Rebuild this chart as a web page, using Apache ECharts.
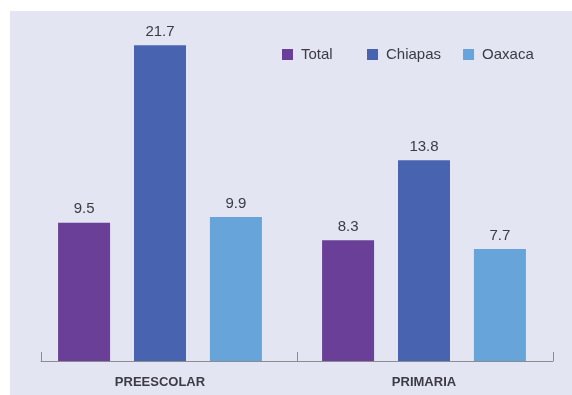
<!DOCTYPE html>
<html>
<head>
<meta charset="utf-8">
<script src="https://cdn.jsdelivr.net/npm/echarts@6/dist/echarts.min.js"></script>
<style>
html,body{margin:0;padding:0;background:#fff;}
#c{width:572px;height:395px;}
</style>
</head>
<body>
<div id="c"></div>
<script>
var categories = ['PREESCOLAR', 'PRIMARIA'];
var seriesNames = ['Total', 'Chiapas', 'Oaxaca'];
var totalValues = [9.5, 8.3];
var chiapasValues = [21.7, 13.8];
var oaxacaValues = [9.9, 7.7];
var colors = ['#6a3f98', '#4863b0', '#67a4da'];

var chart = echarts.init(document.getElementById('c'), null, {renderer: 'canvas'});
var textColor = '#3b3b45';
var font = 'Liberation Sans, Arial, sans-serif';
var labelStyle = {
  show: true, position: 'top', distance: 6,
  fontFamily: font, fontSize: 15, color: textColor,
  formatter: function (p) { return p.value.toFixed(1); }
};
function mk(i, vals) {
  return {
    name: seriesNames[i], type: 'bar', xAxisIndex: 0, yAxisIndex: 0,
    data: vals, barWidth: 52, barGap: '46%',
    itemStyle: {color: colors[i]},
    label: labelStyle
  };
}
var legendBase = {
  top: 47, padding: 0, icon: 'rect', itemWidth: 11, itemHeight: 11, itemGap: 22,
  textStyle: {fontFamily: font, fontSize: 15, color: textColor, padding: [0, 0, 0, 3]}
};
chart.setOption({
  backgroundColor: '#ffffff',
  animation: false,
  graphic: [{
    type: 'rect', left: 10, top: 11, z: -10,
    shape: {width: 562, height: 384},
    style: {fill: '#e4e5f2'}
  }],
  legend: [
    Object.assign({}, legendBase, {left: 282, data: [seriesNames[0]]}),
    Object.assign({}, legendBase, {left: 367, data: [seriesNames[1], seriesNames[2]]})
  ],
  grid: [
    {left: 28, right: 16, top: 41, bottom: 34},
    {left: 41, right: 19, top: 41, bottom: 34}
  ],
  xAxis: [
    {
      type: 'category', gridIndex: 0, data: categories,
      axisLine: {show: false}, axisTick: {show: false},
      axisLabel: {margin: 15, fontFamily: font, fontSize: 13, fontWeight: 'bold', color: textColor}
    },
    {
      type: 'category', gridIndex: 1, data: categories,
      axisLine: {show: true, lineStyle: {color: '#8c8c8c', width: 1}},
      axisTick: {show: true, inside: true, length: 9, lineStyle: {color: '#8c8c8c'}},
      axisLabel: {show: false}
    }
  ],
  yAxis: [
    {type: 'value', gridIndex: 0, min: 0, max: 22, show: false, splitLine: {show: false}},
    {type: 'value', gridIndex: 1, min: 0, max: 22, show: false, splitLine: {show: false}}
  ],
  series: [mk(0, totalValues), mk(1, chiapasValues), mk(2, oaxacaValues)]
});
</script>
</body>
</html>
